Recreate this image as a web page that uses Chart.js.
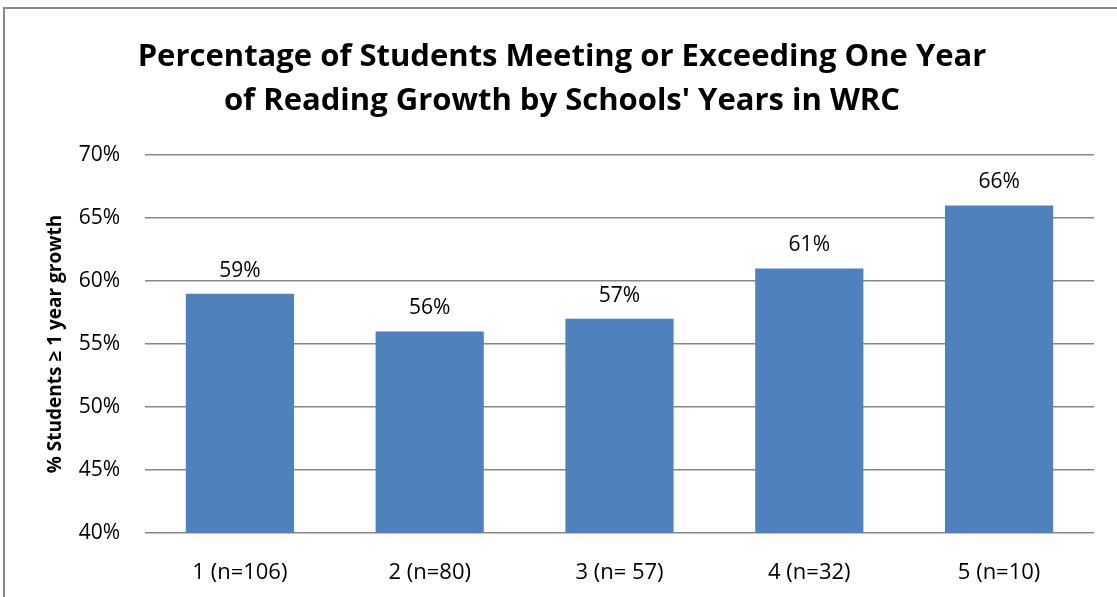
<!DOCTYPE html>
<html>
<head>
<meta charset="utf-8">
<script src="https://cdn.jsdelivr.net/npm/chart.js@4"></script>
<style>
  html,body{margin:0;padding:0;background:#fff;overflow:hidden;}
  #frame{position:absolute;left:3px;top:7px;width:1130px;height:610px;border:2px solid #898989;box-sizing:border-box;}
  #wrap{position:absolute;left:0;top:0;width:1117px;height:597px;}
</style>
</head>
<body>
<div id="frame"></div>
<div id="wrap"><canvas id="myChart" width="1117" height="597"></canvas></div>
<script>
var categories=["1 (n=106)","2 (n=80)","3 (n= 57)","4 (n=32)","5 (n=10)"];
var percentMeeting=[59,56,57,61,66];
var tickValues=[40,45,50,55,60,65,70];
var titleLines=["Percentage of Students Meeting or Exceeding One Year","of Reading Growth by Schools' Years in WRC"];
var yTitle="% Students \u2265 1 year growth";

var fontName="'Open Sans', 'Noto Sans', sans-serif";

// labels over the bars
var barLabels={
    id:"barLabels",
    afterDatasetsDraw:function(chart){
        var ctx=chart.ctx;
        var meta=chart.getDatasetMeta(0);
        ctx.save();
        ctx.font="21px "+fontName;
        ctx.fillStyle="#000";
        ctx.textAlign="center";
        ctx.textBaseline="middle";
        meta.data.forEach(function(bar,i){
            ctx.fillText(percentMeeting[i]+"%",bar.x,bar.y-23);
        });
        ctx.restore();
    }
};

var ctx=document.getElementById("myChart").getContext("2d");
var myChart=new Chart(ctx,{
    type:"bar",
    data:{
        labels:categories,
        datasets:[{
            data:percentMeeting,
            backgroundColor:"#4F81BD",
            categoryPercentage:0.57,
            barPercentage:1
        }]
    },
    options:{
        responsive:false,
        animation:false,
        layout:{padding:{left:30,right:23,top:35,bottom:0}},
        plugins:{
            legend:{display:false},
            tooltip:{enabled:false},
            title:{
                display:true,
                text:titleLines,
                color:"#000",
                font:{family:fontName,size:31,weight:"bold",lineHeight:1.42},
                padding:{top:0,bottom:32}
            }
        },
        scales:{
            x:{
                grid:{display:false},
                border:{display:false},
                ticks:{color:"#000",font:{family:fontName,size:22},padding:19,maxRotation:0},
                afterFit:function(scale){scale.height=64;}
            },
            y:{
                min:40,max:70,
                afterBuildTicks:function(scale){
                    scale.ticks=tickValues.map(function(v){return {value:v};});
                },
                grid:{color:"#878787",lineWidth:1.5,drawTicks:false},
                border:{display:false},
                ticks:{color:"#000",font:{family:fontName,size:21},padding:25,
                    callback:function(v){return v+"%";}},
                title:{display:true,text:yTitle,color:"#000",
                    font:{family:fontName,size:19,weight:"bold"},padding:{top:14,bottom:0}},
                afterFit:function(scale){scale.width=115;}
            }
        }
    },
    plugins:[barLabels]
});
</script>
</body>
</html>
